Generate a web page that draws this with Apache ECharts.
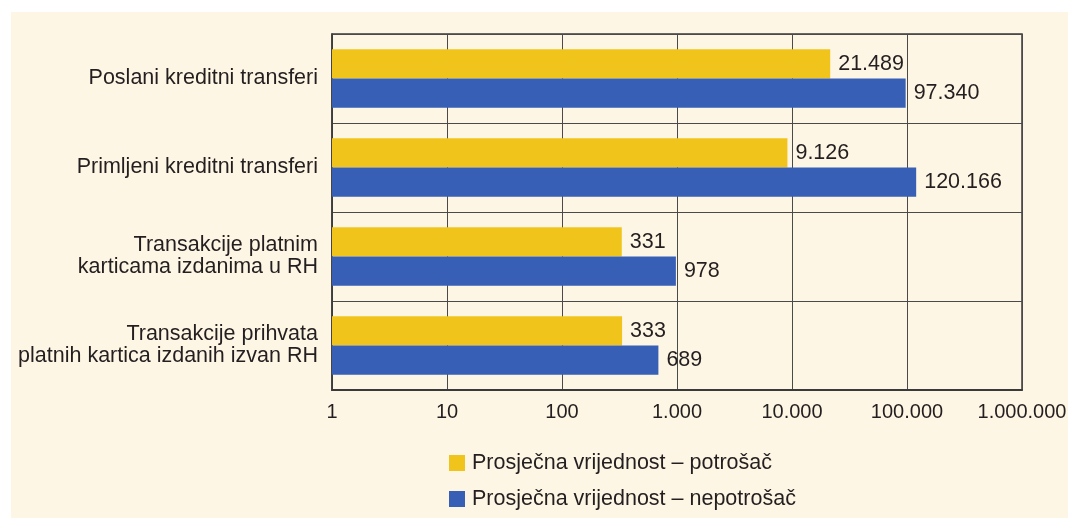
<!DOCTYPE html>
<html>
<head>
<meta charset="utf-8">
<script src="https://cdn.jsdelivr.net/npm/echarts@6/dist/echarts.min.js"></script>
<style>
  html, body { margin: 0; padding: 0; background: #ffffff; }
  #echarts-main {
    position: absolute; left: 11px; top: 12px;
    width: 1057px; height: 506px; background: #fef6e4;
  }
</style>
</head>
<body>
<div id="echarts-main"></div>
<script>
  // podaci
  const categories = [
    'Poslani kreditni transferi',
    'Primljeni kreditni transferi',
    'Transakcije platnim\nkarticama izdanima u RH',
    'Transakcije prihvata\nplatnih kartica izdanih izvan RH'
  ];
  const seriesNames = ['Prosječna vrijednost – potrošač', 'Prosječna vrijednost – nepotrošač'];
  const potrosac = [21489, 9126, 331, 333];
  const nepotrosac = [97340, 120166, 978, 689];

  const fmt = v => String(Math.round(v)).replace(/\B(?=(\d{3})+(?!\d))/g, '.');
  const font = "'Liberation Sans', Arial, sans-serif";
  const fs = 21.5;

  const myChart = echarts.init(document.getElementById('echarts-main'));

  const option = {
    animation: false,
    textStyle: { fontFamily: font },
    legend: {
      data: seriesNames,
      orient: 'vertical',
      left: 438,
      top: 440,
      padding: 0,
      itemWidth: 16,
      itemHeight: 16,
      itemGap: 14,
      icon: 'rect',
      textStyle: { fontSize: fs, lineHeight: 16, color: '#231f20', fontFamily: font, padding: [0, 0, 0, 2] }
    },
    grid: {
      left: 321,
      right: 46,
      top: 22,
      bottom: 128,
      containLabel: false,
      outerBoundsMode: 'none',
      show: true,
      borderColor: '#3a3a3a',
      borderWidth: 1.5
    },
    xAxis: {
      type: 'log',
      logBase: 10,
      min: 1,
      max: 1000000,
      axisLine: { show: true, lineStyle: { color: '#3a3a3a', width: 2 } },
      axisTick: { show: false },
      splitLine: { show: true, lineStyle: { color: '#4a4a4a', width: 1 } },
      axisLabel: {
        fontSize: 20,
        color: '#231f20',
        margin: 12,
        fontFamily: font,
        formatter: v => fmt(v)
      }
    },
    yAxis: {
      type: 'category',
      data: categories,
      inverse: true,
      axisLine: { show: true, lineStyle: { color: '#3a3a3a', width: 1.5 } },
      axisTick: { show: false },
      splitLine: { show: true, lineStyle: { color: '#4a4a4a', width: 1 } },
      axisLabel: {
        fontSize: fs,
        color: '#231f20',
        margin: 14,
        lineHeight: 22,
        align: 'right',
        fontFamily: font
      }
    },
    series: [
      {
        name: seriesNames[0],
        type: 'bar',
        data: potrosac,
        barGap: '0%',
        barCategoryGap: '34%',
        itemStyle: { color: '#f1c41c' },
        label: {
          show: true, position: 'right', distance: 8,
          fontSize: fs, color: '#231f20', fontFamily: font,
          formatter: p => fmt(p.value)
        }
      },
      {
        name: seriesNames[1],
        type: 'bar',
        data: nepotrosac,
        barGap: '0%',
        barCategoryGap: '34%',
        itemStyle: { color: '#365fb5' },
        label: {
          show: true, position: 'right', distance: 8,
          fontSize: fs, color: '#231f20', fontFamily: font,
          formatter: p => fmt(p.value)
        }
      }
    ]
  };

  myChart.setOption(option);
</script>
</body>
</html>
